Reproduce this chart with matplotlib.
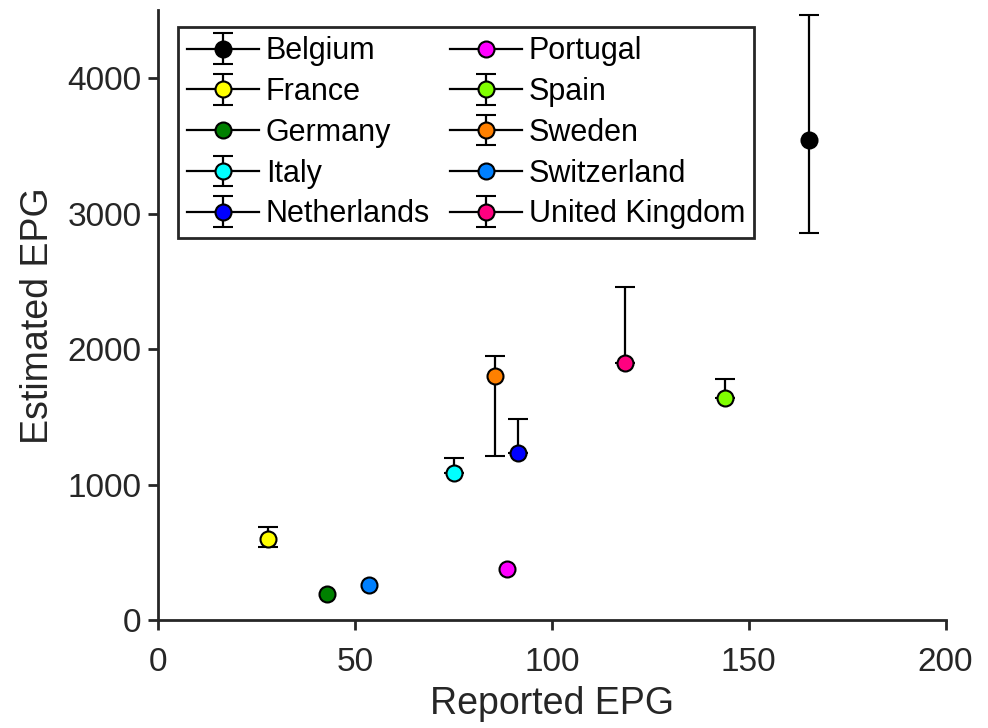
import numpy as np
import matplotlib.pyplot as plt

plt.rcParams['font.family'] = ['Liberation Sans', 'DejaVu Sans']

# данные по странам: reported / estimated EPG и асимметричные ошибки
countries = ["Belgium", "France", "Germany", "Italy", "Netherlands",
             "Portugal", "Spain", "Sweden", "Switzerland", "United Kingdom"]
reported = [165.2, 27.9, 43.0, 75.1, 91.5, 88.7, 144.0, 85.7, 53.6, 118.5]
estimated = [3540, 598, 195, 1083, 1235, 376, 1643, 1803, 263, 1894]
err_low = [680, 59, 0, 0, 0, 0, 0, 590, 0, 0]
err_high = [925, 88, 0, 115, 246, 0, 136, 147, 0, 566]
has_err = [True, True, False, True, True, False, True, True, False, True]
colors = ["#000000", "#FFFF00", "#008000", "#00FFFF", "#0000FF",
          "#FF00FF", "#80FF00", "#FF8000", "#0080FF", "#FF0080"]

fig = plt.figure(figsize=(9.88, 7.28), dpi=100)
ax = fig.add_axes([0.16, 0.148, 0.797, 0.838])

handles = []
for i in range(len(countries)):
    if has_err[i]:
        h = ax.errorbar(reported[i], estimated[i],
                        yerr=[[err_low[i]], [err_high[i]]],
                        fmt='-o', color='black', ecolor='black', elinewidth=1.6,
                        capsize=7, capthick=1.6, lw=1.6,
                        markerfacecolor=colors[i], markeredgecolor='black',
                        markeredgewidth=1.5, markersize=11.5, label=countries[i])
    else:
        h, = ax.plot(reported[i], estimated[i], '-o', color='black', lw=1.6,
                     markerfacecolor=colors[i], markeredgecolor='black',
                     markeredgewidth=1.5, markersize=11.5, label=countries[i])
    handles.append(h)

ax.set_xlim(0, 200)
ax.set_ylim(0, 4500)
ax.set_xticks([0, 50, 100, 150, 200])
ax.set_yticks([0, 1000, 2000, 3000, 4000])
ax.set_xlabel("Reported EPG", fontsize=27, color='#262626', labelpad=6)
ax.set_ylabel("Estimated EPG", fontsize=27, color='#262626', labelpad=8)

for s in ['top', 'right']:
    ax.spines[s].set_visible(False)
for s in ['left', 'bottom']:
    ax.spines[s].set_linewidth(2)
    ax.spines[s].set_color('#262626')
ax.tick_params(direction='out', length=7, width=2, colors='#262626',
               labelsize=24, pad=5)
ax.tick_params(axis='x', pad=12)

leg = ax.legend(handles, countries, ncol=2, loc='upper left',
                bbox_to_anchor=(0.025, 0.972), borderaxespad=0, fontsize=22,
                handlelength=2.35, handletextpad=0.23, columnspacing=0.65,
                labelspacing=0.35, fancybox=False, framealpha=1, borderpad=0.3)
leg.get_frame().set_edgecolor('#262626')
leg.get_frame().set_linewidth(2)

fig.savefig("out.png", dpi=100)
